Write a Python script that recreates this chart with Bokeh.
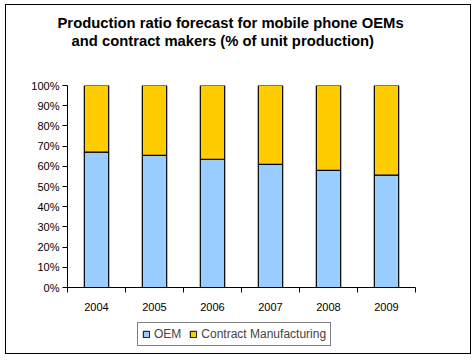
from bokeh.plotting import figure
from bokeh.layouts import column
from bokeh.models import (ColumnDataSource, FixedTicker, NumeralTickFormatter,
                          Legend, LegendItem, Range1d, Title)
from bokeh.embed import file_html
from bokeh.resources import INLINE

years = ["2004", "2005", "2006", "2007", "2008", "2009"]
oem = [0.67, 0.654, 0.635, 0.61, 0.58, 0.556]
contract = [round(1 - v, 3) for v in oem]
y_ticks = [0.0, 0.1, 0.2, 0.3, 0.4, 0.5, 0.6, 0.7, 0.8, 0.9, 1.0]
title_lines = ["Production ratio forecast for mobile phone OEMs",
               "and contract makers (% of unit production)"]
series = ["OEM", "Contract Manufacturing"]

FONT = "Liberation Sans"
BLUE = "#99CCFF"
GOLD = "#FFCC00"

xs = [i + 0.5 for i in range(len(years))]
src = ColumnDataSource(dict(x=xs, oem=oem, contract=contract, years=years))

p = figure(width=464, height=308, output_backend="svg", toolbar_location=None,
           x_range=Range1d(0, len(years)), y_range=Range1d(0, 1),
           min_border_left=61, min_border_right=55, min_border_top=80,
           min_border_bottom=25)
p.outline_line_color = None
p.grid.grid_line_color = None
p.background_fill_color = "white"
p.border_fill_color = "white"
p.title.visible = False

r1 = p.vbar_stack(["oem", "contract"], x="x", width=0.42, source=src,
                  color=[BLUE, GOLD], line_color="black", line_width=1.2)

# spacer nearest the frame, then the two title lines above it
p.add_layout(Title(text=" ", text_font_size="10px", text_line_height=1.2,
                   standoff=24), "above")
for txt, off in [(title_lines[1], 4), (title_lines[0], -10)]:
    t = Title(text=txt, align="left", text_font=FONT, text_font_size="14.8px",
              text_font_style="bold", text_color="black", offset=off, standoff=0,
              text_line_height=1.1)
    p.add_layout(t, "above")

# axes
xa = p.xaxis[0]
xa.ticker = FixedTicker(ticks=xs, minor_ticks=list(range(len(years) + 1)))
xa.major_label_overrides = {x: y for x, y in zip(xs, years)}
xa.major_tick_out = 0
xa.major_tick_in = 0
xa.minor_tick_out = 5
xa.minor_tick_in = 0
xa.minor_tick_line_color = "black"
xa.axis_line_color = "black"
xa.major_label_standoff = 10
xa.major_label_text_font = FONT
xa.major_label_text_font_size = "11px"
xa.major_label_text_color = "black"

ya = p.yaxis[0]
ya.ticker = FixedTicker(ticks=y_ticks)
ya.formatter = NumeralTickFormatter(format="0%")
ya.major_tick_out = 5
ya.major_tick_in = 0
ya.minor_tick_line_color = None
ya.axis_line_color = "black"
ya.major_tick_line_color = "black"
ya.major_label_standoff = 3
ya.major_label_text_font = FONT
ya.major_label_text_font_size = "11px"
ya.major_label_text_color = "black"

# legend strip below the chart
lg = figure(width=464, height=40, output_backend="svg", toolbar_location=None,
            x_range=Range1d(100, 101), y_range=Range1d(100, 101),
            x_axis_type=None, y_axis_type=None,
            min_border_left=0, min_border_right=0, min_border_top=0,
            min_border_bottom=0)
lg.outline_line_color = None
lg.grid.grid_line_color = None
lg.title.visible = False
r2 = lg.vbar_stack(["oem", "contract"], x="x", width=0.42, source=src,
                   color=[BLUE, GOLD], line_color="black", line_width=1)

legend = Legend(items=[LegendItem(label=series[0], renderers=[r2[0]]),
                       LegendItem(label=series[1], renderers=[r2[1]])],
                orientation="horizontal", location=(70, 7))
legend.label_text_font = FONT
legend.label_text_font_size = "12px"
legend.glyph_width = 8
legend.glyph_height = 8
legend.label_height = 14
legend.label_standoff = 4
legend.spacing = 8
legend.padding = 4
legend.margin = 0
legend.border_line_color = "black"
legend.border_line_width = 1
lg.add_layout(legend, "center")

layout = column(p, lg, spacing=0)
layout.styles = {"border": "1px solid black"}
layout.margin = (4, 0, 0, 5)

open("out.html", "w").write(file_html(layout, INLINE))
